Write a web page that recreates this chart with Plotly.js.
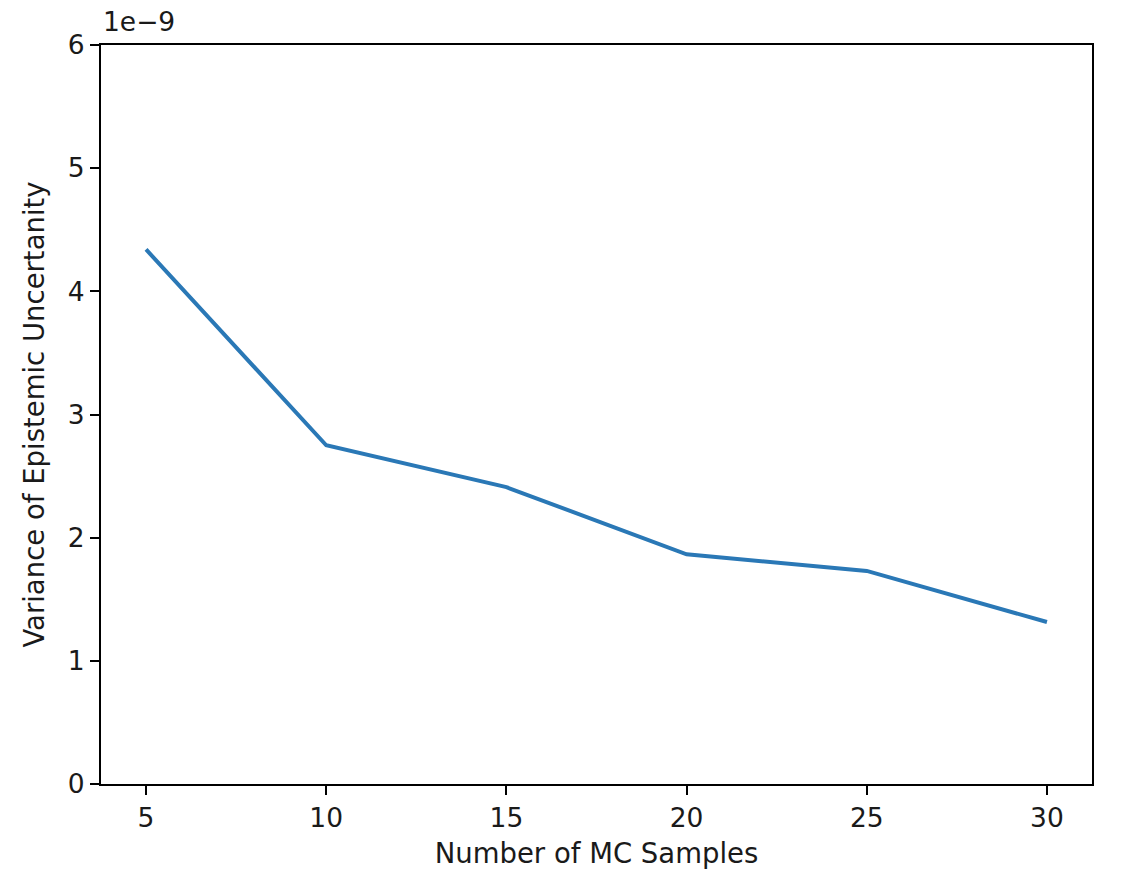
<!DOCTYPE html>
<html>
<head>
<meta charset="utf-8">
<script src="https://cdn.plot.ly/plotly-3.0.1.min.js"></script>
<style>
html,body{margin:0;padding:0;background:#fff;}
#chart{width:1146px;height:876px;}
</style>
</head>
<body>
<div id="chart"></div>
<script>
const mcSamples = [5, 10, 15, 20, 25, 30];
const variance = [4.34e-9, 2.75e-9, 2.41e-9, 1.865e-9, 1.73e-9, 1.315e-9];
const yTickVals = [0, 1e-9, 2e-9, 3e-9, 4e-9, 5e-9, 6e-9];
const yTickText = ['0', '1', '2', '3', '4', '5', '6'];
const xTickVals = [5, 10, 15, 20, 25, 30];

const FONT = {family: 'DejaVu Sans', size: 26.5, color: '#1a1a1a'};
const TITLE_FONT = {family: 'DejaVu Sans', size: 27.5, color: '#1a1a1a'};

const trace = {
  x: mcSamples,
  y: variance,
  type: 'scatter',
  mode: 'lines',
  line: {color: '#2a78b6', width: 4},
  hoverinfo: 'skip'
};

const layout = {
  width: 1146,
  height: 876,
  margin: {l: 101, r: 54, t: 45, b: 92},
  paper_bgcolor: '#fff',
  plot_bgcolor: '#fff',
  font: FONT,
  showlegend: false,
  xaxis: {
    range: [3.75, 31.25],
    tickvals: xTickVals,
    ticks: 'outside',
    ticklen: 9,
    tickwidth: 2,
    tickcolor: '#000',
    showline: true,
    linecolor: '#000',
    linewidth: 2,
    mirror: true,
    showgrid: false,
    zeroline: false,
    tickfont: FONT,
    title: {text: 'Number of MC Samples', font: TITLE_FONT, standoff: 12},
    automargin: false
  },
  yaxis: {
    range: [0, 6e-9],
    tickvals: yTickVals,
    ticktext: yTickText,
    ticks: 'outside',
    ticklen: 9,
    tickwidth: 2,
    tickcolor: '#000',
    showline: true,
    linecolor: '#000',
    linewidth: 2,
    mirror: true,
    showgrid: false,
    zeroline: false,
    tickfont: FONT,
    title: {text: 'Variance of Epistemic Uncertanity', font: TITLE_FONT, standoff: 15},
    automargin: false
  },
  annotations: [{
    text: '1e\u22129',
    xref: 'paper', yref: 'paper',
    x: 0, y: 1,
    xanchor: 'left', yanchor: 'bottom',
    yshift: 6,
    showarrow: false,
    font: FONT
  }]
};

Plotly.newPlot('chart', [trace], layout, {displayModeBar: false, staticPlot: true});
</script>
</body>
</html>
